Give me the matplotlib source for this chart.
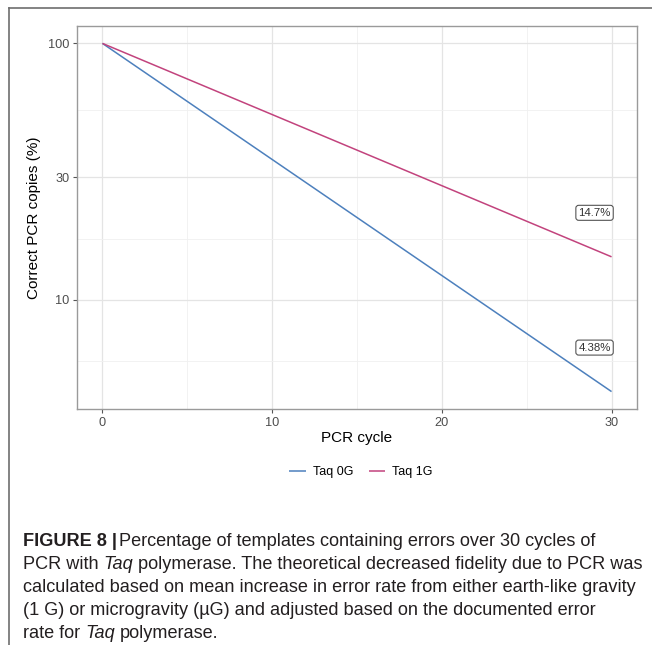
import matplotlib
matplotlib.use("Agg")
import matplotlib.pyplot as plt
from matplotlib.lines import Line2D
from matplotlib.transforms import IdentityTransform

# data
cycles = [0, 30]
taq_0g = [100, 4.38]
taq_1g = [100, 14.7]
series_names = ["Taq 0G", "Taq 1G"]
end_labels = ["4.38%", "14.7%"]
x_ticks = [0, 10, 20, 30]
x_minor = [5, 15, 25]
y_ticks = [10, 30, 100]
y_minor = [10 / 3 ** 0.5, 10 * 3 ** 0.5, 100 / (10 / 3) ** 0.5]

caption_lines = [
    [("FIGURE 8 |", "bold", "normal", 0.35), ("Percentage of templates containing errors over 30 cycles of", "normal", "normal", 0)],
    [("PCR with", "normal", "normal", 1), ("Taq", "normal", "italic", 1),
     ("polymerase. The theoretical decreased fidelity due to PCR was", "normal", "normal", 0)],
    [("calculated based on mean increase in error rate from either earth-like gravity", "normal", "normal", 0)],
    [("(1 G) or microgravity (\u00b5G) and adjusted based on the documented error", "normal", "normal", 0)],
    [("rate for", "normal", "normal", 1), ("Taq", "normal", "italic", 1), ("polymerase.", "normal", "normal", 0)],
]

colors = ["#4d80bd", "#c2437d"]
W, H = 652, 645

plt.rcParams['font.family'] = ['Liberation Sans', 'DejaVu Sans']

fig = plt.figure(figsize=(W / 100, H / 100), dpi=100)
ax = fig.add_axes([77 / W, 1 - 409 / H, (637 - 77) / W, (409 - 26) / H])

for vals, c, name in zip([taq_0g, taq_1g], colors, series_names):
    ax.plot(cycles, vals, color=c, lw=1.1, label=name, zorder=3, solid_capstyle='butt')

ax.set_yscale('log')
ax.set_xlim(-1.5, 31.5)
lo, hi = min(taq_0g + taq_1g), max(taq_0g + taq_1g)
span = (hi / lo) ** 0.05
ax.set_ylim(lo / span, hi * span)

ax.set_xticks(x_ticks)
ax.set_xticklabels([str(v) for v in x_ticks])
ax.set_xticks(x_minor, minor=True)
ax.set_yticks(y_ticks)
ax.set_yticklabels([str(v) for v in y_ticks])
ax.set_yticks(y_minor, minor=True)
ax.yaxis.set_minor_formatter(matplotlib.ticker.NullFormatter())

ax.grid(True, which='major', color='#e4e4e4', lw=0.9, zorder=0)
ax.grid(True, which='minor', color='#f0f0f0', lw=0.6, zorder=0)
ax.set_axisbelow(True)
ax.tick_params(which='major', length=3, width=0.8, color='#555555',
               labelsize=9.2, labelcolor='#4d4d4d', pad=2.5)
ax.tick_params(which='minor', length=0)
for s in ax.spines.values():
    s.set_color('#9a9a9a')
    s.set_linewidth(1.0)

ax.set_xlabel('PCR cycle', fontsize=11, labelpad=2)
ax.set_ylabel('Correct PCR copies (%)', fontsize=11, labelpad=5)

# end labels
for vals, lab in zip([taq_0g, taq_1g], end_labels):
    ax.annotate(lab, xy=(cycles[-1], vals[-1]), xytext=(-17, 44),
                textcoords='offset pixels', ha='center', va='center',
                fontsize=8.2, color='#333333',
                bbox=dict(boxstyle='round,pad=0.22,rounding_size=0.25',
                          fc='white', ec='#555555', lw=0.8))

fig.legend(loc='center', bbox_to_anchor=(361 / W, 1 - 472 / H), ncol=2,
           frameon=False, fontsize=9, handlelength=1.3, columnspacing=1.2,
           handletextpad=0.6)

# outer frame (top and left)
fig.add_artist(Line2D([9 / W, 1], [1 - 8 / H, 1 - 8 / H], color='#6e6e6e', lw=1.2))
fig.add_artist(Line2D([9 / W, 9 / W], [0, 1 - 8 / H], color='#6e6e6e', lw=1.2))

# caption
renderer = fig.canvas.get_renderer()


def text_width(s, size, weight='normal', style='normal'):
    t = fig.text(0, 0, s, fontsize=size, fontweight=weight, fontstyle=style)
    w = t.get_window_extent(renderer).width
    t.remove()
    return w


cap_size = 10.0
target = 641 - 23
cap_size *= target / text_width(caption_lines[2][0][0], cap_size)
space = text_width("a a", cap_size) - text_width("aa", cap_size)

baselines = [546, 569, 592, 615, 638]
for runs, yb in zip(caption_lines, baselines):
    x = 23
    for txt, weight, style, gap in runs:
        t = fig.text(x, H - yb, txt, transform=IdentityTransform(),
                     fontsize=cap_size, fontweight=weight, fontstyle=style,
                     color='#231f20', va='baseline', ha='left')
        x += t.get_window_extent(renderer).width + gap * space

fig.savefig('out.png', dpi=100)
